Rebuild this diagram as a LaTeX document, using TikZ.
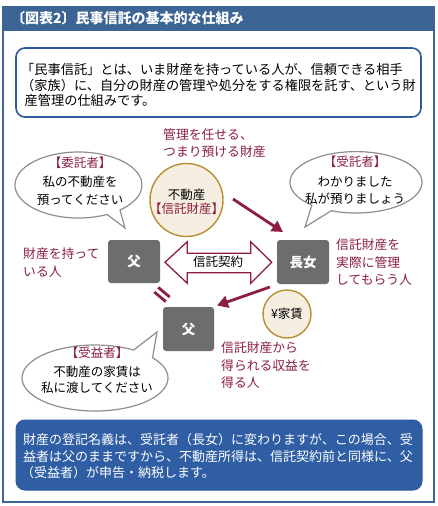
\documentclass[tikz,border=0pt]{standalone}
\usepackage{fontspec}
\setmainfont{Noto Sans CJK JP}
\usetikzlibrary{arrows.meta}
\XeTeXlinebreaklocale "ja"
\XeTeXlinebreakskip=0pt plus 2pt minus 1pt
\definecolor{frameblue}{HTML}{3C6494}
\definecolor{boxblue}{HTML}{2C5A9A}
\definecolor{fillblue}{HTML}{2F5EA4}
\definecolor{wine}{HTML}{8C1E43}
\definecolor{boxgray}{HTML}{6D6D6D}
\definecolor{cream}{HTML}{F6EFE1}
\definecolor{gold}{HTML}{B88F30}
\definecolor{bubblegray}{HTML}{8E8E8E}
\begin{document}
\begin{tikzpicture}[x=1pt,y=-1pt,
  person/.style={fill=boxgray, rounded corners=3pt, inner sep=0pt, text=white,
    font=\fontsize{13.5}{13.5}\selectfont\bfseries, text height=11.9pt, text depth=1.6pt},
  redtxt/.style={text=wine, inner sep=0pt, font=\fontsize{12.8}{12.8}\selectfont},
  btxt/.style={inner sep=0pt, font=\fontsize{12.5}{12.5}\selectfont},
  introtxt/.style={inner sep=0pt, font=\fontsize{13.2}{13.2}\selectfont},
  notetxt/.style={inner sep=0pt, text=white, font=\fontsize{13}{13}\selectfont},
  bubble/.style={draw=bubblegray, fill=white, line width=1.2pt},
  coin/.style={circle, draw=gold, fill=cream, line width=1.4pt, inner sep=0pt},
  redarrow/.style={draw=wine, line width=2.8pt, -{Triangle[length=11pt,width=12pt]}},
  eqmark/.style={draw=wine, line width=2.8pt},
]
\useasboundingbox (0,0) rectangle (438,506);
\fill[white] (0,0) rectangle (438,506);
% frame and title bar
\draw[frameblue, line width=1.3pt] (3,7) rectangle (434,502);
\fill[frameblue] (3,7) rectangle (434,30.5);
\node[anchor=base west, inner sep=0pt, text=white, font=\fontsize{14}{14}\selectfont\bfseries] (title) at (11,23.8) {〔図表2〕民事信託の基本的な仕組み};

% intro box
\node[draw=boxblue, line width=1.6pt, rounded corners=9pt, minimum width=405pt, minimum height=69pt, inner sep=0pt] (intro) at (218.5,82.5) {};
\node[introtxt, anchor=base west] (i1) at (21,74) {\hbox to 392pt{「民事信託」とは、いま財産を持っている人が、信頼できる相手}};
\node[introtxt, anchor=base west] (i2) at (21,90) {\hbox to 392pt{（家族）に、自分の財産の管理や処分をする権限を託す、という財}};
\node[introtxt, anchor=base west] (i3) at (24.5,105) {産管理の仕組みです。};

% top red label
\node[redtxt, anchor=base west] (t1) at (163,139.9) {管理を任せる、};
\node[redtxt, anchor=base west] (t2) at (163,156.9) {つまり預ける財産};

% property circle
\node[coin, minimum size=73pt] (prop) at (186.5,200) {};
\node[btxt, anchor=base] (p1) at (186.5,199.8) {不動産};
\node[btxt, anchor=base, text=wine] (p2) at (186.5,213.8) {【信託財産】};

% left bubble (settlor)
\draw[bubble] (78.5,185) ++(63.3:63.5 and 33) arc[start angle=63.3, end angle=409.2, x radius=63.5, y radius=33] -- (125,228) -- cycle;
\node[btxt, anchor=base, text=wine] (l1) at (80,167.8) {【委託者】};
\node[btxt, anchor=base] (l2) at (80,186.8) {私の不動産を};
\node[btxt, anchor=base] (l3) at (80,204.8) {預ってください};

% right bubble (trustee)
\draw[bubble] (356,182.3) ++(132:66 and 30.7) arc[start angle=132, end angle=472, x radius=66, y radius=30.7] -- (305,227) -- cycle;
\node[btxt, anchor=base, text=wine] (r1) at (355,166.5) {【受託者】};
\node[btxt, anchor=base] (r2) at (355,186.5) {わかりました};
\node[btxt, anchor=base] (r3) at (355,203) {私が預りましょう};

% bottom bubble (beneficiary)
\draw[bubble] (95,378) ++(-38:73 and 33) arc[start angle=-38, end angle=302, x radius=73, y radius=33] -- (157,332) -- cycle;
\node[btxt, anchor=base, text=wine] (b1) at (97,357.8) {【受益者】};
\node[btxt, anchor=base] (b2) at (97,376.8) {不動産の家賃は};
\node[btxt, anchor=base] (b3) at (97,392.8) {私に渡してください};

% persons
\node[person, minimum width=52pt, minimum height=43pt] (father) at (134,261.5) {父};
\node[person, minimum width=52pt, minimum height=44pt] (daughter) at (303,262) {長女};
\node[person, minimum width=51pt, minimum height=44pt] (benef) at (188.5,329) {父};

% side labels
\node[redtxt, anchor=base west] (s1) at (23,258.9) {財産を持って};
\node[redtxt, anchor=base west] (s2) at (23,276.9) {いる人};
\node[redtxt, anchor=base west] (d1) at (336,249.9) {信託財産を};
\node[redtxt, anchor=base west] (d2) at (336,267.9) {実際に管理};
\node[redtxt, anchor=base west] (d3) at (336,284.9) {してもらう人};
\node[redtxt, anchor=base west] (e1) at (221,352.9) {信託財産から};
\node[redtxt, anchor=base west] (e2) at (221,370.9) {得られる収益を};
\node[redtxt, anchor=base west] (e3) at (221,387.9) {得る人};

% contract double arrow
\filldraw[draw=wine, fill=white, line width=1.3pt, line join=miter]
  (165,262.3) -- (187.3,241.7) -- (187.3,253.3) -- (250.7,253.3) -- (250.7,241.7)
  -- (271.7,262.3) -- (250.7,283.3) -- (250.7,272.7) -- (187.3,272.7) -- (187.3,283.3) -- cycle;
\node[btxt, anchor=base] (contract) at (218,266.8) {信託契約};

% yen circle
\node[coin, minimum size=48pt] (rent) at (287,314) {};
\node[btxt, anchor=base] (rentt) at (287,318.8) {¥家賃};

% arrows
\coordinate (a1s) at (233,199);
\coordinate (a1e) at (283,232);
\draw[redarrow] (a1s) -- (a1e);
\coordinate (a2s) at (270,287);
\coordinate (a2e) at (217,305.5);
\draw[redarrow] (a2s) -- (a2e);

% equality mark
\coordinate (q1a) at (154.3,292.0);
\coordinate (q1b) at (165.8,301.6);
\coordinate (q2a) at (158.2,287.4);
\coordinate (q2b) at (169.7,297.0);
\draw[eqmark] (q1a) -- (q1b);
\draw[eqmark] (q2a) -- (q2b);

% bottom note box
\node[fill=fillblue, draw=boxblue, line width=1pt, rounded corners=9pt, minimum width=406pt, minimum height=70pt, inner sep=0pt] (note) at (219,455) {};
\node[notetxt, anchor=base west] (n1) at (23,444.9) {\hbox to 390pt{財産の登記名義は、受託者（長女）に変わりますが、この場合、受}};
\node[notetxt, anchor=base west] (n2) at (23,461.6) {\hbox to 390pt{益者は父のままですから、不動産所得は、信託契約前と同様に、父}};
\node[notetxt, anchor=base west] (n3) at (21,477.6) {（受益者）が申告・納税します。};
\end{tikzpicture}
\end{document}
